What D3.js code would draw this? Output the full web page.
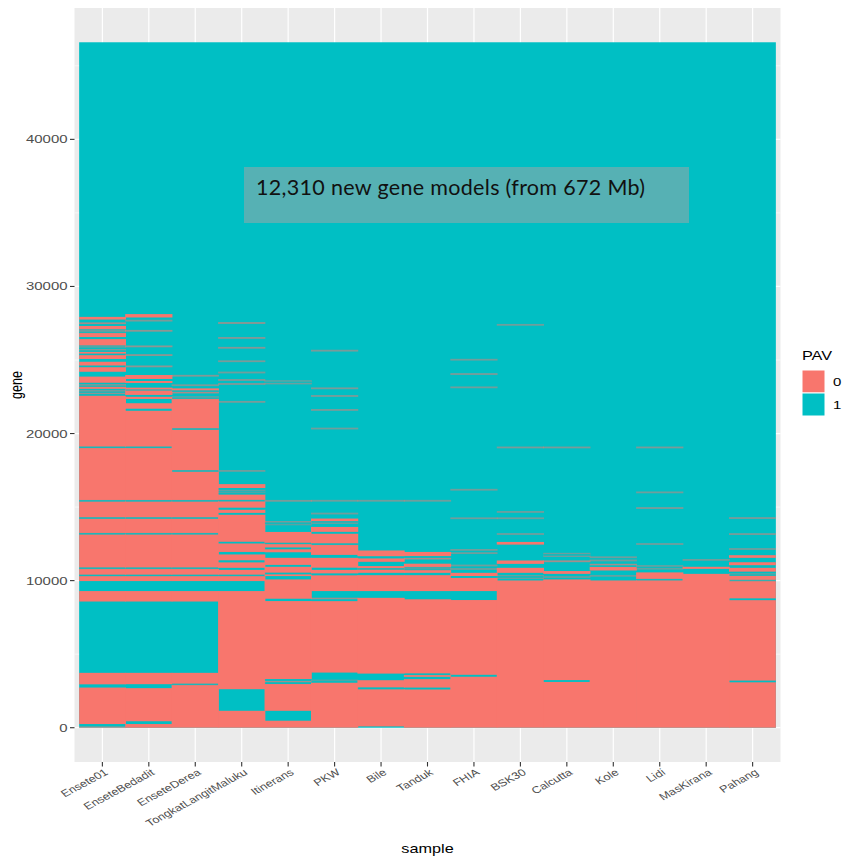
<!DOCTYPE html>
<html>
<head>
<meta charset="utf-8">
<script src="https://cdn.jsdelivr.net/npm/d3@7"></script>
<style>
body { margin: 0; background: #fff; }
</style>
</head>
<body>
<svg></svg>
<script>
const samples = ["Ensete01", "EnseteBedadit", "EnseteDerea", "TongkatLangitMaluku", "Itinerans",
	"PKW", "Bile", "Tanduk", "FHIA", "BSK30", "Calcutta", "Kole", "Lidi", "MasKirana", "Pahang"];
const nGenes = 46600;
const yTicks = [0, 10000, 20000, 30000, 40000];
const yMinor = [5000, 15000, 25000, 35000, 45000];
const pavLevels = ["0", "1"];
const noteText = "12,310 new gene models (from 672 Mb)";

// runs of absent genes (PAV = 0) per sample, [first gene, last gene]; everything else is PAV = 1
const absEnsete01 = [[0,70],[250,2730],[2950,3730],[8580,9290],[9970,10320],[10390,10810],[10880,13150],[13220,14220],[14290,15390],[15460,19030],[19100,22580],[22680,22780],[22850,22950],[23020,23190],[23250,23360],[23440,23870],[24200,24520],[24610,24880],[25070,25340],[25420,25560],[25650,25740],[25850,25930],[25970,26420],[26560,26850],[26920,27030],[27070,27320],[27440,27550],[27750,27930]];
const absEnseteBedadit = [[0,250],[440,2690],[2960,3730],[8580,9290],[9970,10320],[10390,10810],[10880,13150],[13220,14220],[14290,15390],[15460,19030],[19100,21560],[21680,22060],[22350,22510],[22620,22940],[22980,23120],[23440,23570],[23710,23980],[24520,24610],[25290,25380],[25880,25970],[26940,27030],[27640,27710],[27890,28120]];
const absEnseteDerea = [[0,2920],[2980,3730],[8580,9290],[9970,10320],[10390,10810],[10880,13150],[13220,14220],[14290,15390],[15460,17420],[17490,20270],[20340,22370],[22440,22500],[22730,22850],[22920,23070],[23250,23320],[23890,23970]];
const absTongkat = [[0,1150],[2620,9290],[9970,10320],[10390,10730],[10870,11250],[11370,11780],[11950,12540],[12630,14490],[14600,14830],[14950,15400],[15470,15860],[15970,16030],[16100,16170],[16290,16560],[17430,17490],[22120,22190],[23330,23410],[23600,23680],[24120,24180],[24880,24950],[25790,25870],[26460,26540],[27470,27560]];
const absItinerans = [[0,475],[1150,2980],[3080,3190],[3300,8610],[8770,10080],[10310,10440],[10530,10940],[11070,11550],[11930,12140],[12240,12500],[12560,13310],[13800,13850],[13950,14030],[15390,15460],[23370,23440],[23530,23590]];
const absPKW = [[0,3070],[3190,3230],[3750,8610],[8730,8830],[9290,10370],[10480,10730],[10880,11550],[11750,12440],[12520,13200],[13310,13650],[13890,13950],[14030,14220],[14530,14590],[15400,15460],[20310,20370],[21570,21640],[22520,22590],[23040,23110],[25600,25670]];
const absBile = [[90,2620],[2730,3230],[3680,8830],[9290,10370],[10530,10760],[10830,10990],[11280,11510],[11660,12050],[15400,15460]];
const absTanduk = [[0,2600],[2730,3300],[3460,3590],[3680,8730],[9290,10370],[10530,10730],[10780,10850],[10900,11150],[11440,11560],[11660,11950],[15400,15460]];
const absFHIA = [[0,3480],[3590,8680],[9290,10190],[10310,10530],[10760,10820],[11000,11060],[11840,11900],[12060,12120],[14210,14270],[16150,16210],[23110,23170],[24010,24080],[24990,25050]];
const absBSK30 = [[0,10010],[10150,10200],[10300,10350],[10530,10870],[11140,11370],[12450,12630],[13140,13200],[14210,14270],[14640,14700],[19020,19090],[27360,27420]];
const absCalcutta = [[0,3120],[3230,10080],[10220,10270],[10460,10650],[11260,11370],[11640,11700],[11800,11860],[19020,19090]];
const absKole = [[0,10010],[10300,10350],[10690,10940],[11030,11140],[11340,11400],[11560,11620]];
const absLidi = [[0,10030],[10100,10560],[10780,10850],[10950,11020],[12460,12520],[14900,14970],[15970,16030],[19020,19090]];
const absMasKirana = [[0,10460],[10800,10940],[11380,11440]];
const absPahang = [[0,3100],[3190,8680],[8780,9990],[10030,10340],[10420,10490],[10600,10870],[11050,11250],[11550,11730],[12120,12180],[13130,13200],[14220,14290]];

const absentRuns = [absEnsete01, absEnseteBedadit, absEnseteDerea, absTongkat, absItinerans,
	absPKW, absBile, absTanduk, absFHIA, absBSK30, absCalcutta, absKole, absLidi, absMasKirana, absPahang];

const svgWidth = 844;
const svgHeight = 860;
const panel = { left: 74.5, right: 780.5, top: 8, bottom: 762 };
const stretch = 1.3;   // the picture is widened horizontally
const tickFont = 11.5;
const minLine = 1.8;   // thinnest run that still shows up in the raster

const svg = d3.select("svg")
	.attr("width", svgWidth)
	.attr("height", svgHeight)
	.style("font-family", "'Liberation Sans', Arial, sans-serif");

const unit = (panel.right - panel.left) / 15.2;
const xScale = d3.scaleBand()
	.domain(samples)
	.range([panel.left + 0.1 * unit, panel.right - 0.1 * unit]);
const yPad = nGenes * 0.05;
const yScale = d3.scaleLinear()
	.domain([-0.5 - yPad, nGenes + 0.5 + yPad])
	.range([panel.bottom, panel.top]);
const colour = d3.scaleOrdinal()
	.domain(pavLevels)
	.range(["#F8766D", "#00BFC4"]);

// panel + grid
svg.append("rect")
	.attr("x", panel.left).attr("y", panel.top)
	.attr("width", panel.right - panel.left)
	.attr("height", panel.bottom - panel.top)
	.attr("fill", "#EBEBEB");

svg.append("g").selectAll("line")
	.data(yMinor)
	.enter().append("line")
	.attr("x1", panel.left).attr("x2", panel.right)
	.attr("y1", d => yScale(d)).attr("y2", d => yScale(d))
	.attr("stroke", "#fff").attr("stroke-width", 0.6);

svg.append("g").selectAll("line")
	.data(yTicks)
	.enter().append("line")
	.attr("x1", panel.left).attr("x2", panel.right)
	.attr("y1", d => yScale(d)).attr("y2", d => yScale(d))
	.attr("stroke", "#fff").attr("stroke-width", 1.2);

svg.append("g").selectAll("line")
	.data(samples)
	.enter().append("line")
	.attr("x1", d => xScale(d) + xScale.bandwidth() / 2)
	.attr("x2", d => xScale(d) + xScale.bandwidth() / 2)
	.attr("y1", panel.top).attr("y2", panel.bottom)
	.attr("stroke", "#fff").attr("stroke-width", 1.2);

// tiles: present (1) as background, absent (0) runs on top
const x0 = xScale(samples[0]);
const x1 = xScale(samples[samples.length - 1]) + xScale.bandwidth();
svg.append("rect")
	.attr("x", x0)
	.attr("width", x1 - x0)
	.attr("y", yScale(nGenes + 0.5))
	.attr("height", yScale(-0.5) - yScale(nGenes + 0.5))
	.attr("fill", colour("1"));

const cols = svg.append("g").selectAll("g")
	.data(samples)
	.enter().append("g");

function runRects(sample, i) {
	const runs = absentRuns[i];
	return runs.map(r => {
		const top = yScale(r[1] + 0.5), bot = yScale(r[0] - 0.5);
		const h = bot - top;
		const thin = h < minLine;
		return {
			sample, first: i === 0, last: i === samples.length - 1,
			y: thin ? (top + bot) / 2 - minLine / 2 : top,
			h: thin ? minLine : h,
			op: thin ? 0.2 + 0.5 * h / minLine : 1
		};
	});
}

// narrow present gaps inside absent blocks, drawn back over in the present colour
function gapRects(sample, i) {
	const runs = absentRuns[i];
	const out = [];
	for (let k = 1; k < runs.length; k++) {
		const top = yScale(runs[k][0] - 0.5), bot = yScale(runs[k - 1][1] + 0.5);
		const h = bot - top;
		if (h < minLine) out.push({ sample, y: (top + bot) / 2 - minLine / 2, h: minLine, op: 0.25 + 0.5 * h / minLine });
	}
	return out;
}

const ovl = 0.4;
cols.selectAll(".abs")
	.data((d, i) => runRects(d, i))
	.enter().append("rect")
	.attr("class", "abs")
	.attr("x", d => xScale(d.sample) - (d.first ? 0 : ovl))
	.attr("width", d => xScale.bandwidth() + (d.first ? 0 : ovl) + (d.last ? 0 : ovl))
	.attr("y", d => d.y)
	.attr("height", d => d.h)
	.attr("fill", colour("0"))
	.attr("fill-opacity", d => d.op);

cols.selectAll(".gap")
	.data((d, i) => gapRects(d, i))
	.enter().append("rect")
	.attr("class", "gap")
	.attr("x", d => xScale(d.sample))
	.attr("width", xScale.bandwidth())
	.attr("y", d => d.y)
	.attr("height", d => d.h)
	.attr("fill", colour("1"))
	.attr("fill-opacity", d => d.op);

// axes
const yAxis = svg.append("g");
yAxis.selectAll("line")
	.data(yTicks)
	.enter().append("line")
	.attr("x1", panel.left - 4.5).attr("x2", panel.left)
	.attr("y1", d => yScale(d)).attr("y2", d => yScale(d))
	.attr("stroke", "#333").attr("stroke-width", 1.1);
yAxis.selectAll("text")
	.data(yTicks)
	.enter().append("text")
	.attr("transform", d => `translate(${panel.left - 7}, ${yScale(d)}) scale(${stretch}, 1)`)
	.attr("dy", "0.35em")
	.attr("text-anchor", "end")
	.attr("font-size", tickFont)
	.attr("fill", "#4D4D4D")
	.text(d => d);

const xAxis = svg.append("g");
xAxis.selectAll("line")
	.data(samples)
	.enter().append("line")
	.attr("x1", d => xScale(d) + xScale.bandwidth() / 2)
	.attr("x2", d => xScale(d) + xScale.bandwidth() / 2)
	.attr("y1", panel.bottom).attr("y2", panel.bottom + 4.5)
	.attr("stroke", "#333").attr("stroke-width", 1.1);
xAxis.selectAll("text")
	.data(samples)
	.enter().append("text")
	.attr("transform", d => `translate(${xScale(d) + xScale.bandwidth() / 2 + 4}, ${panel.bottom + 9}) scale(${stretch}, 1) rotate(-35)`)
	.attr("dy", "0.35em")
	.attr("text-anchor", "end")
	.attr("font-size", 9.8)
	.attr("fill", "#4D4D4D")
	.text(d => d);

// axis titles
svg.append("text")
	.attr("transform", `translate(${(panel.left + panel.right) / 2}, 853) scale(${stretch}, 1)`)
	.attr("text-anchor", "middle")
	.attr("font-size", 12.5)
	.attr("fill", "#000")
	.text("sample");

svg.append("text")
	.attr("transform", `translate(22, ${(panel.top + panel.bottom) / 2}) scale(${stretch}, 1) rotate(-90)`)
	.attr("text-anchor", "middle")
	.attr("font-size", 12.5)
	.attr("fill", "#000")
	.text("gene");

// legend
const legend = svg.append("g").attr("transform", "translate(802, 0)");
legend.append("text")
	.attr("transform", `translate(0, 360) scale(${stretch}, 1)`)
	.attr("font-size", 12.5)
	.attr("fill", "#000")
	.text("PAV");
legend.selectAll("rect")
	.data(pavLevels)
	.enter().append("rect")
	.attr("x", 0)
	.attr("y", (d, i) => 370 + i * 23)
	.attr("width", 23).attr("height", 23)
	.attr("fill", d => colour(d))
	.attr("stroke", "#fff").attr("stroke-width", 1);
legend.selectAll(".lab")
	.data(pavLevels)
	.enter().append("text")
	.attr("class", "lab")
	.attr("transform", (d, i) => `translate(31, ${381.5 + i * 23}) scale(${stretch}, 1)`)
	.attr("dy", "0.35em")
	.attr("font-size", tickFont)
	.attr("fill", "#000")
	.text(d => d);

// annotation box pasted over the plot
svg.append("rect")
	.attr("x", 244).attr("y", 167)
	.attr("width", 445).attr("height", 56)
	.attr("fill", "#56B1B4");
svg.append("text")
	.attr("x", 256).attr("y", 195)
	.attr("font-family", "Lato, 'Open Sans', sans-serif")
	.attr("font-size", 21.5)
	.attr("textLength", 389)
	.attr("lengthAdjust", "spacing")
	.attr("fill", "#111")
	.text(noteText);
</script>
</body>
</html>
